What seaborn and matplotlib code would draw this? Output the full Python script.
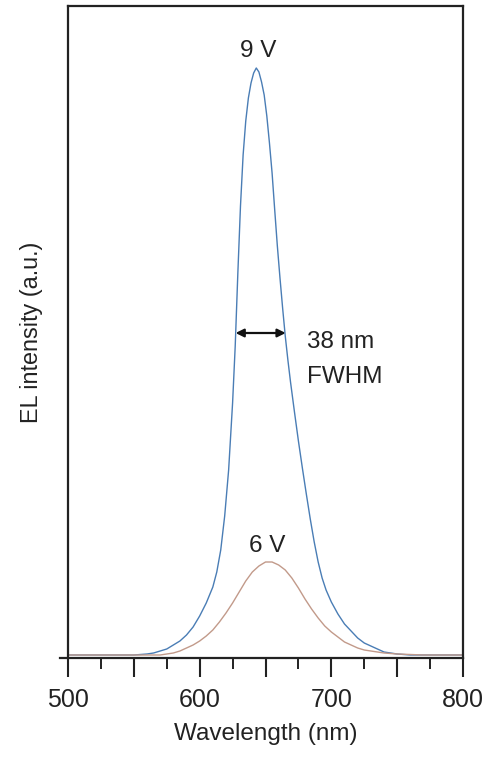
import numpy as np
import pandas as pd
import matplotlib
matplotlib.use("Agg")
import matplotlib.pyplot as plt
import seaborn as sns
from matplotlib.ticker import FixedLocator

# ---- data (arbitrary units) ----
wl_9v = [500, 510, 520, 530, 540, 550, 560, 565, 570, 575, 580, 585, 590, 595,
         600, 605, 610, 613, 616, 619, 622, 625, 627, 629, 631, 633, 635, 637,
         639, 641, 643, 645, 647, 649, 651, 653, 655, 657, 659, 661, 663, 665,
         667, 669, 672, 675, 678, 681, 684, 687, 690, 693, 696, 700, 705, 710,
         715, 720, 725, 730, 735, 740, 750, 760, 770, 780, 790, 800]
int_9v = [3, 3, 3, 3, 3, 3, 4, 5, 7, 9, 13, 17, 23, 31,
          42, 55, 71, 86, 108, 142, 188, 255, 312, 385, 452, 503, 537, 560,
          575, 585, 590, 586, 576, 563, 542, 515, 485, 448, 412, 380, 350, 322,
          298, 276, 246, 217, 190, 164, 139, 116, 96, 80, 68, 56, 44, 34,
          27, 20, 15, 12, 9, 6, 4, 3, 3, 3, 3, 3]

wl_6v = [500, 520, 540, 560, 570, 580, 585, 590, 595, 600, 605, 610, 615, 620,
         625, 630, 635, 640, 645, 650, 655, 660, 665, 670, 675, 680, 685, 690,
         695, 700, 705, 710, 715, 720, 725, 730, 740, 750, 770, 800]
int_6v = [3, 3, 3, 3, 3, 5, 7, 10, 13, 17, 22, 28, 36, 45,
          55, 66, 77, 86, 92, 96, 96, 93, 88, 80, 70, 59, 49, 40,
          32, 26, 21, 16, 13, 10, 8, 7, 5, 4, 3, 3]

voltages = ["9 V", "6 V"]
fwhm_lines = ["38 nm", "FWHM"]
x_major = [500, 550, 600, 650, 700, 750, 800]
x_labels = ["500", "", "600", "", "700", "", "800"]
x_minor = [525, 575, 625, 675, 725, 775]

df = pd.concat([
    pd.DataFrame({"Wavelength": wl_9v, "Intensity": int_9v, "V": voltages[0]}),
    pd.DataFrame({"Wavelength": wl_6v, "Intensity": int_6v, "V": voltages[1]}),
], ignore_index=True)

sns.set_style("white")
plt.rcParams["font.family"] = ["Liberation Sans", "DejaVu Sans"]

W, H = 488, 761
fig = plt.figure(figsize=(W / 100, H / 100), dpi=100)
ax = fig.add_axes([68 / W, 1 - 658 / H, (463 - 68) / W, (658 - 6) / H])

txt = "#222222"
sns.lineplot(data=df, x="Wavelength", y="Intensity", hue="V",
             palette={"9 V": "#4a7db5", "6 V": "#c29a8a"},
             linewidth=1.0, legend=False, ax=ax, sort=False)

ax.set_xlim(500, 800)
ax.set_ylim(0, 652)
ax.set_yticks([])
ax.set_xticks(x_major, labels=x_labels)
ax.xaxis.set_minor_locator(FixedLocator(x_minor))
ax.tick_params(axis="x", which="major", direction="out", length=13.5, width=1.5,
               color="#222222", labelsize=18, labelcolor=txt, pad=8, bottom=True)
ax.tick_params(axis="x", which="minor", direction="out", length=8, width=1.4,
               color="#222222", bottom=True)

for s in ax.spines.values():
    s.set_visible(True)
    s.set_color("#222222")
    s.set_linewidth(1.6)
ax.spines["bottom"].set_bounds(494, 800)

ax.set_xlabel("Wavelength (nm)", fontsize=17.5, color=txt, labelpad=8)
ax.set_ylabel("EL intensity (a.u.)", fontsize=16.8, color=txt)
ax.yaxis.set_label_coords(-0.063, 0.5)

ax.text(644.3, 601, voltages[0], ha="center", va="baseline", fontsize=17.5, color=txt)
ax.text(651.5, 106, voltages[1], ha="center", va="baseline", fontsize=17.5, color=txt)
ax.text(681.5, 310, fwhm_lines[0], ha="left", va="baseline", fontsize=17.5, color=txt)
ax.text(681.5, 275, fwhm_lines[1], ha="left", va="baseline", fontsize=17.5, color=txt)
ax.annotate("", xy=(627.3, 325), xytext=(665.3, 325),
            arrowprops=dict(arrowstyle="<|-|>", color="#111111", lw=1.6,
                            mutation_scale=12, shrinkA=0, shrinkB=0))

fig.savefig("out.png", dpi=100)
